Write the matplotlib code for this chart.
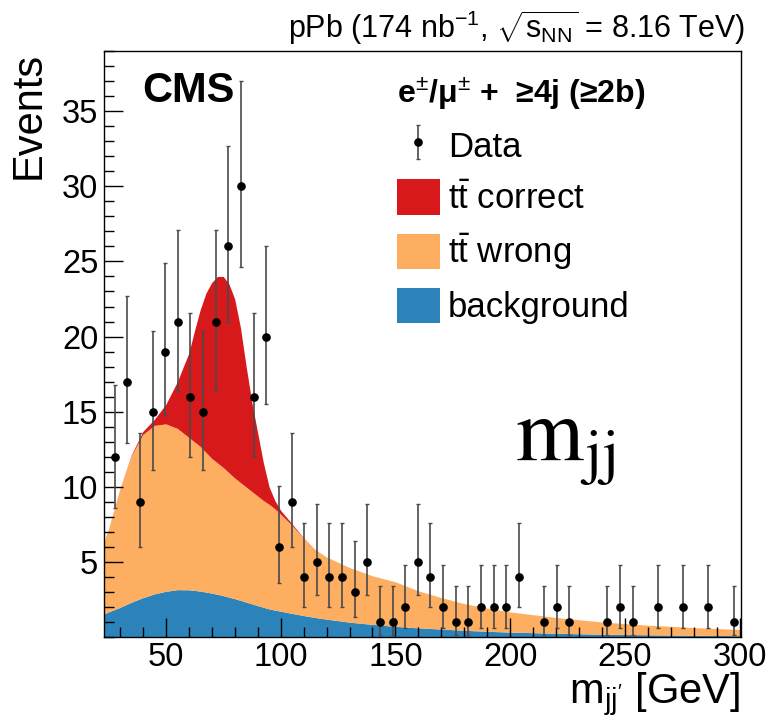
import numpy as np
import matplotlib
matplotlib.use("Agg")
import matplotlib.pyplot as plt
from matplotlib.patches import Patch
from matplotlib.ticker import MultipleLocator

plt.rcParams['font.family'] = ['Liberation Sans', 'DejaVu Sans']
plt.rcParams['mathtext.fontset'] = 'custom'
plt.rcParams['mathtext.rm'] = 'Liberation Sans'
plt.rcParams['mathtext.it'] = 'Liberation Sans:italic'
plt.rcParams['mathtext.bf'] = 'Liberation Sans:bold'

# ---------------------------------------------------------------
# datos
# ---------------------------------------------------------------
bin_lo, bin_hi, n_bins = 25.0, 300.0, 50
counts = [12, 17, 9, 15, 19, 21, 16, 15, 21, 26,
          30, 16, 20, 6, 9, 4, 5, 4, 4, 3,
          5, 1, 1, 2, 5, 4, 2, 1, 1, 2,
          2, 2, 4, 0, 1, 2, 1, 0, 0, 1,
          2, 1, 0, 2, 0, 2, 0, 2, 0, 1]

# banda de error (abajo, arriba) para cada conteo
err_band = {1: (0.17, 3.4), 2: (0.65, 4.8), 3: (1.35, 6.4), 4: (2.05, 7.6),
            5: (2.85, 8.9), 6: (3.6, 10.1), 9: (6.0, 13.6), 12: (8.6, 16.8),
            15: (11.1, 20.4), 16: (12.0, 21.6), 17: (12.9, 22.7), 19: (14.8, 24.9),
            20: (15.5, 26.0), 21: (16.4, 27.1), 26: (21.0, 32.7), 30: (24.6, 37.0)}

# plantillas (curvas suaves)
m_grid = [23, 25, 30, 35, 40, 45, 50, 55, 60, 62.5, 65, 67.5, 70, 72.5, 75, 77.5,
          80, 82.5, 85, 87.5, 90, 92.5, 95, 97.5, 100, 105, 110, 115, 120,
          130, 140, 150, 160, 170, 180, 190, 200, 220, 240, 260, 280, 300]
bkg = [1.55, 1.7, 2.0, 2.35, 2.65, 2.9, 3.07, 3.18, 3.17, 3.13, 3.08, 3.02, 2.95,
       2.87, 2.78, 2.68, 2.58, 2.47, 2.35, 2.24, 2.12, 2.01, 1.9, 1.82, 1.75,
       1.6, 1.46, 1.33, 1.22, 1.02, 0.87, 0.74, 0.64, 0.56, 0.48, 0.41, 0.36,
       0.28, 0.22, 0.18, 0.15, 0.12]
tt_wrong = [4.85, 5.5, 7.9, 9.75, 10.85, 11.2, 11.13, 10.72, 10.13, 9.87, 9.62,
            9.28, 8.95, 8.73, 8.52, 8.27, 8.02, 7.83, 7.65, 7.46, 7.28, 7.09,
            6.95, 6.73, 6.45, 5.85, 5.14, 4.52, 4.13, 3.63, 3.23, 2.96, 2.46,
            2.09, 1.77, 1.54, 1.34, 1.05, 0.81, 0.64, 0.51, 0.41]
tt_correct = [0, 0, 0, 0.05, 0.2, 0.4, 1.3, 3.1, 5.6, 7.4, 9.1, 10.6, 11.7, 12.4,
              12.7, 12.55, 11.9, 10.3, 8.0, 5.9, 4.2, 2.5, 1.15, 0.55, 0.25,
              0.1, 0.02, 0, 0, 0, 0, 0, 0, 0, 0, 0, 0, 0, 0, 0, 0, 0]

c_red, c_orange, c_blue = "#d7191c", "#fdae61", "#2b83ba"

# ---------------------------------------------------------------
# figura
# ---------------------------------------------------------------
fig = plt.figure(figsize=(7.69, 7.25), dpi=100)
ax = fig.add_axes([0.135, 0.1207, 0.828, 0.8093])

s1 = np.array(bkg)
s2 = s1 + np.array(tt_wrong)
s3 = s2 + np.array(tt_correct)
ax.fill_between(m_grid, 0, s1, color=c_blue, lw=0)
ax.fill_between(m_grid, s1, s2, color=c_orange, lw=0)
ax.fill_between(m_grid, s2, s3, color=c_red, lw=0)

edges = np.linspace(bin_lo, bin_hi, n_bins + 1)
centers = 0.5 * (edges[:-1] + edges[1:])
cnt = np.array(counts, dtype=float)
sel = cnt > 0
lo = np.array([cnt[i] - err_band[int(cnt[i])][0] for i in np.where(sel)[0]])
hi = np.array([err_band[int(cnt[i])][1] - cnt[i] for i in np.where(sel)[0]])
eb = ax.errorbar(centers[sel], cnt[sel], yerr=[lo, hi], fmt='o', color='black',
                 ms=5.2, ecolor='#4a4a4a', elinewidth=1.2, capsize=1.6,
                 capthick=1.0, label='Data', zorder=5)

ax.set_xlim(23, 300.3)
ax.set_ylim(0, 39)
ax.xaxis.set_major_locator(MultipleLocator(50))
ax.xaxis.set_minor_locator(MultipleLocator(10))
ax.yaxis.set_major_locator(MultipleLocator(5))
ax.yaxis.set_minor_locator(MultipleLocator(1))
ax.tick_params(which='both', direction='in', top=False, right=False, width=1.0)
ax.tick_params(which='major', length=13.5, labelsize=23.5)
ax.tick_params(which='minor', length=7.2)
ax.tick_params(axis='x', pad=3)
ax.tick_params(axis='y', pad=4)
ax.set_yticks([5, 10, 15, 20, 25, 30, 35])
for sp in ax.spines.values():
    sp.set_linewidth(1.0)

ax.text(-0.118, 0.998, 'Events', rotation=90, ha='center', va='top',
        fontsize=30, transform=ax.transAxes)
ax.text(1.0, -0.111, r"m$_{\mathrm{jj'}}$ [GeV]", ha='right', va='baseline',
        fontsize=30, transform=ax.transAxes)

fig.text(0.969, 0.9476, r"pPb (174 nb$^{-1}$, $\sqrt{\mathrm{s}_{\mathrm{NN}}}$ = 8.16 TeV)",
         ha='right', va='baseline', fontsize=22)
ax.text(0.061, 0.913, 'CMS', fontsize=30, fontweight='bold', ha='left',
        va='baseline', transform=ax.transAxes)

ax.text(0.6455, 0.3025, r'$\mathrm{m_{jj}}$', math_fontfamily='stix',
        fontsize=63, ha='left', va='baseline', transform=ax.transAxes)

handles = [eb,
           Patch(facecolor=c_red, edgecolor='none'),
           Patch(facecolor=c_orange, edgecolor='none'),
           Patch(facecolor=c_blue, edgecolor='none')]
labels = ['Data', r'$\mathrm{t\bar{t}}$ correct', r'$\mathrm{t\bar{t}}$ wrong', 'background']
leg = ax.legend(handles, labels, loc='upper left', bbox_to_anchor=(0.46, 0.958),
                frameon=False, fontsize=25, borderpad=0, borderaxespad=0,
                handlelength=1.24, handleheight=1.2, handletextpad=0.23,
                labelspacing=0.45,
                title="e$^{\\pm}$/μ$^{\\pm}$ +  ≥4j (≥2b)",
                alignment='left',
                title_fontproperties={'size': 23, 'weight': 'bold'})

fig.savefig('out.png', dpi=100)
